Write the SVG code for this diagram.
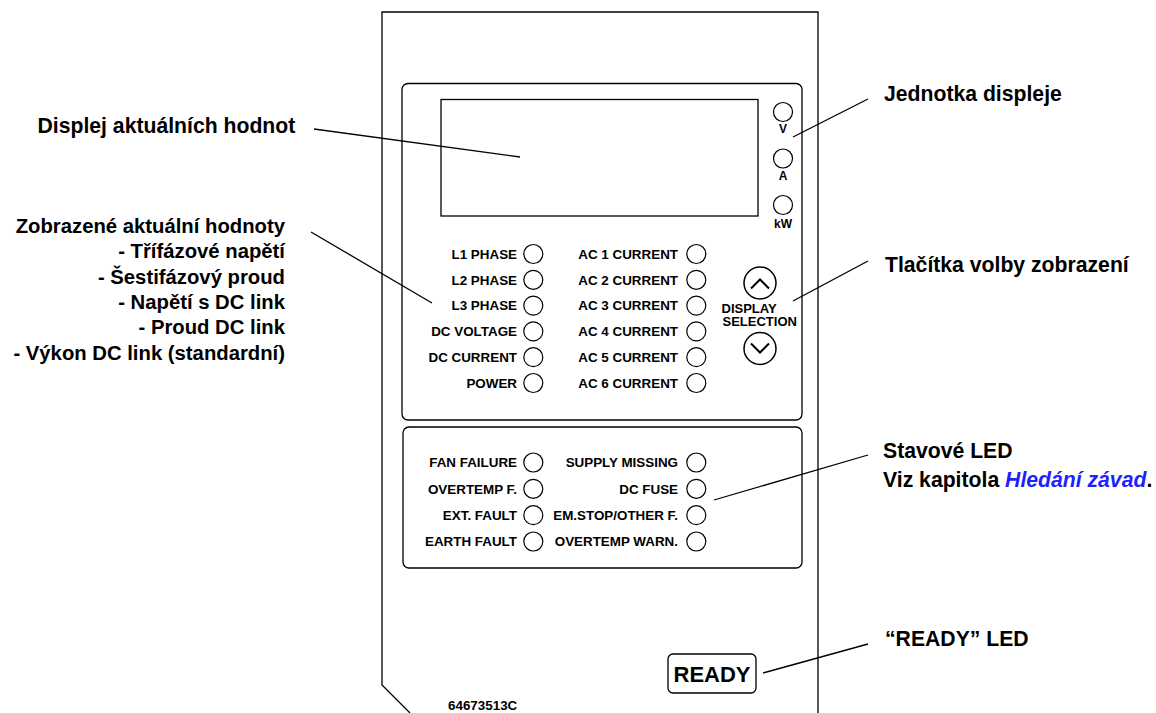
<svg xmlns="http://www.w3.org/2000/svg" width="1156" height="713" viewBox="0 0 1156 713">
<style>
  .ln { fill: none; stroke: #000; stroke-width: 1.3; }
  .led { fill: #fff; stroke: #000; stroke-width: 1.2; }
  .lbl { font-family: "Liberation Sans", Arial, sans-serif; font-weight: bold; fill: #000; }
  .big { font-size: 21.2px; }
  .lst { font-size: 20.3px; text-anchor: end; }
  .sm { font-size: 13.4px; text-anchor: end; }
  .unit { font-size: 12px; text-anchor: middle; }
  .link { fill: #1f1fff; font-style: italic; }
</style>
<rect width="1156" height="713" fill="#fff"/>

<g id="housing">
  <path class="ln" d="M410,713 L382,685 L382,12 L818,12 L818,713"/>
</g>

<g id="display-panel">
  <rect class="ln" x="402" y="83.5" width="400" height="336.5" rx="6"/>
  <rect class="ln" x="441" y="99.5" width="317" height="116.5"/>
</g>

<g id="unit-leds">
  <circle class="led" cx="783" cy="112" r="9.5"/>
  <text class="lbl unit" x="783" y="133">V</text>
  <circle class="led" cx="783" cy="158.5" r="9.5"/>
  <text class="lbl unit" x="783" y="180">A</text>
  <circle class="led" cx="783" cy="205" r="9.5"/>
  <text class="lbl unit" x="783" y="227.5">kW</text>
</g>

<g id="value-leds">
  <text class="lbl sm" x="517" y="258.7">L1 PHASE</text>
  <circle class="led" cx="533.3" cy="254" r="9.5"/>
  <text class="lbl sm" x="517" y="284.5">L2 PHASE</text>
  <circle class="led" cx="533.3" cy="279.8" r="9.5"/>
  <text class="lbl sm" x="517" y="310.3">L3 PHASE</text>
  <circle class="led" cx="533.3" cy="305.6" r="9.5"/>
  <text class="lbl sm" x="517" y="336.1">DC VOLTAGE</text>
  <circle class="led" cx="533.3" cy="331.4" r="9.5"/>
  <text class="lbl sm" x="517" y="361.9">DC CURRENT</text>
  <circle class="led" cx="533.3" cy="357.2" r="9.5"/>
  <text class="lbl sm" x="517" y="387.7">POWER</text>
  <circle class="led" cx="533.3" cy="383" r="9.5"/>

  <text class="lbl sm" x="678" y="258.7">AC 1 CURRENT</text>
  <circle class="led" cx="696.3" cy="254" r="9.5"/>
  <text class="lbl sm" x="678" y="284.5">AC 2 CURRENT</text>
  <circle class="led" cx="696.3" cy="279.8" r="9.5"/>
  <text class="lbl sm" x="678" y="310.3">AC 3 CURRENT</text>
  <circle class="led" cx="696.3" cy="305.6" r="9.5"/>
  <text class="lbl sm" x="678" y="336.1">AC 4 CURRENT</text>
  <circle class="led" cx="696.3" cy="331.4" r="9.5"/>
  <text class="lbl sm" x="678" y="361.9">AC 5 CURRENT</text>
  <circle class="led" cx="696.3" cy="357.2" r="9.5"/>
  <text class="lbl sm" x="678" y="387.7">AC 6 CURRENT</text>
  <circle class="led" cx="696.3" cy="383" r="9.5"/>
</g>

<g id="selection-buttons">
  <circle cx="760" cy="283" r="16" fill="#fff" stroke="#000" stroke-width="1.5"/>
  <polyline points="751,288.5 760,279.5 769,288.5" fill="none" stroke="#000" stroke-width="2"/>
  <text class="lbl" font-size="13" x="721.5" y="312.8">DISPLAY</text>
  <text class="lbl" font-size="13" x="722.5" y="325.8">SELECTION</text>
  <circle cx="760" cy="348.5" r="16" fill="#fff" stroke="#000" stroke-width="1.5"/>
  <polyline points="751,343.5 760,352.5 769,343.5" fill="none" stroke="#000" stroke-width="2"/>
</g>

<g id="status-panel">
  <rect class="ln" x="403" y="427" width="399" height="141" rx="6"/>
  <text class="lbl sm" x="517" y="467.2">FAN FAILURE</text>
  <circle class="led" cx="533.3" cy="462.5" r="9.5"/>
  <text class="lbl sm" x="517" y="493.5">OVERTEMP F.</text>
  <circle class="led" cx="533.3" cy="488.8" r="9.5"/>
  <text class="lbl sm" x="517" y="519.9">EXT. FAULT</text>
  <circle class="led" cx="533.3" cy="515.2" r="9.5"/>
  <text class="lbl sm" x="517" y="546.2">EARTH FAULT</text>
  <circle class="led" cx="533.3" cy="541.5" r="9.5"/>

  <text class="lbl sm" x="678" y="467.2">SUPPLY MISSING</text>
  <circle class="led" cx="696.3" cy="462.5" r="9.5"/>
  <text class="lbl sm" x="678" y="493.5">DC FUSE</text>
  <circle class="led" cx="696.3" cy="488.8" r="9.5"/>
  <text class="lbl sm" x="678" y="519.9">EM.STOP/OTHER F.</text>
  <circle class="led" cx="696.3" cy="515.2" r="9.5"/>
  <text class="lbl sm" x="678" y="546.2">OVERTEMP WARN.</text>
  <circle class="led" cx="696.3" cy="541.5" r="9.5"/>
</g>

<g id="ready-led">
  <rect class="ln" x="668" y="654" width="88" height="39" rx="5"/>
  <text class="lbl" font-size="22" x="673.5" y="682">READY</text>
</g>

<g id="part-number">
  <text class="lbl" font-size="13.4" x="448" y="710">64673513C</text>
</g>

<g id="callout-labels">
  <text class="lbl big" x="37.5" y="132.5">Displej aktuálních hodnot</text>
  <text class="lbl lst" x="285" y="233">Zobrazené aktuální hodnoty</text>
  <text class="lbl lst" x="285" y="258.3">- Třífázové napětí</text>
  <text class="lbl lst" x="285" y="283.6">- Šestifázový proud</text>
  <text class="lbl lst" x="285" y="308.9">- Napětí s DC link</text>
  <text class="lbl lst" x="285" y="334.2">- Proud DC link</text>
  <text class="lbl lst" x="285" y="359.5">- Výkon DC link (standardní)</text>
  <text class="lbl big" x="884" y="101">Jednotka displeje</text>
  <text class="lbl big" x="885" y="272">Tlačítka volby zobrazení</text>
  <text class="lbl big" x="883" y="457.5">Stavové LED</text>
  <text class="lbl big" x="883" y="487">Viz kapitola <tspan class="link">Hledání závad</tspan>.</text>
  <text class="lbl big" x="885" y="645.5">“READY” LED</text>
</g>

<g id="connectors">
  <line class="ln" x1="314" y1="129" x2="520" y2="157"/>
  <line class="ln" x1="311" y1="232" x2="432" y2="303"/>
  <line class="ln" x1="793" y1="137" x2="868" y2="99"/>
  <line class="ln" x1="793" y1="301" x2="868" y2="261"/>
  <line class="ln" x1="714" y1="500" x2="868" y2="455"/>
  <line class="ln" x1="763" y1="673" x2="868" y2="644"/>
</g>
</svg>
